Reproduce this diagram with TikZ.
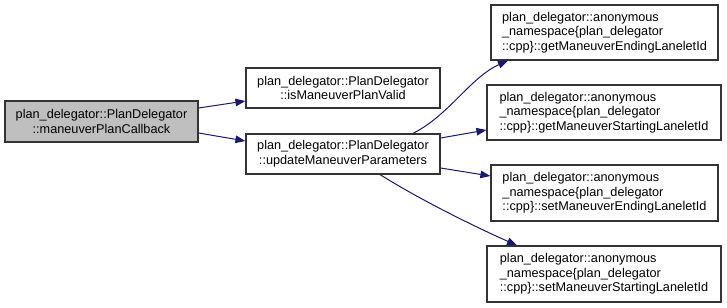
\documentclass[tikz,border=0pt]{standalone}
\usepackage{fontspec}
\setmainfont{Liberation Sans}
\usepackage{tikz}
\usetikzlibrary{%
arrows.meta,%
calc}

\definecolor{edgeblue}{HTML}{191970}
\definecolor{boxline}{HTML}{333333}
\definecolor{rootgray}{HTML}{BFBFBF}

\tikzset{
  fnbox/.style={draw=boxline,line width=1.2bp,fill=white,inner sep=0pt,
    font=\fontsize{12.7bp}{14.6bp}\selectfont},
  rootbox/.style={fnbox,fill=rootgray},
  callarrow/.style={edgeblue,line width=1bp,-{Triangle[length=10bp,width=7.5bp]}}
}

\begin{document}
\begin{tikzpicture}[x=1bp,y=1bp]
\useasboundingbox (0,0) rectangle (727,307);
% caller and its two direct callees
\node[rootbox,minimum width=193bp,minimum height=41bp,align=center] (callback) at (101.5,185.5)
  {plan\_delegator::PlanDelegator\\::maneuverPlanCallback};
\node[fnbox,minimum width=194bp,minimum height=40bp,align=center] (isvalid) at (343,219)
  {plan\_delegator::PlanDelegator\\::isManeuverPlanValid};
\node[fnbox,minimum width=194bp,minimum height=40bp,align=center] (update) at (343,153)
  {plan\_delegator::PlanDelegator\\::updateManeuverParameters};
% helpers in the anonymous namespace
\node[fnbox,minimum width=227bp,minimum height=55bp,align=left] (getend) at (604.5,274.5)
  {plan\_delegator::anonymous\\\_namespace\{plan\_delegator\\::cpp\}::getManeuverEndingLaneletId};
\node[fnbox,minimum width=234bp,minimum height=55bp,align=left] (getstart) at (604,194.5)
  {plan\_delegator::anonymous\\\_namespace\{plan\_delegator\\::cpp\}::getManeuverStartingLaneletId};
\node[fnbox,minimum width=227bp,minimum height=56bp,align=left] (setend) at (604.5,114)
  {plan\_delegator::anonymous\\\_namespace\{plan\_delegator\\::cpp\}::setManeuverEndingLaneletId};
\node[fnbox,minimum width=234bp,minimum height=56bp,align=left] (setstart) at (604,33)
  {plan\_delegator::anonymous\\\_namespace\{plan\_delegator\\::cpp\}::setManeuverStartingLaneletId};

% calls
\draw[callarrow] ([yshift=13.5bp]callback.east) -- ([yshift=-13bp]isvalid.west);
\draw[callarrow] ([yshift=-11.5bp]callback.east) -- ([yshift=13bp]update.west);
\draw[callarrow] ([xshift=70bp]update.north) .. controls +(37,19) and +(-38,-17) .. ([xshift=-96.5bp]getend.south);
\draw[callarrow] ([yshift=16bp]update.east) -- ([yshift=-17.5bp]getstart.west);
\draw[callarrow] ([yshift=-14bp]update.east) -- ([yshift=17bp]setend.west);
\draw[callarrow] ([xshift=37bp]update.south) .. controls +(40,-25) and +(-45,20) .. ([xshift=-87bp]setstart.north);
\end{tikzpicture}
\end{document}
